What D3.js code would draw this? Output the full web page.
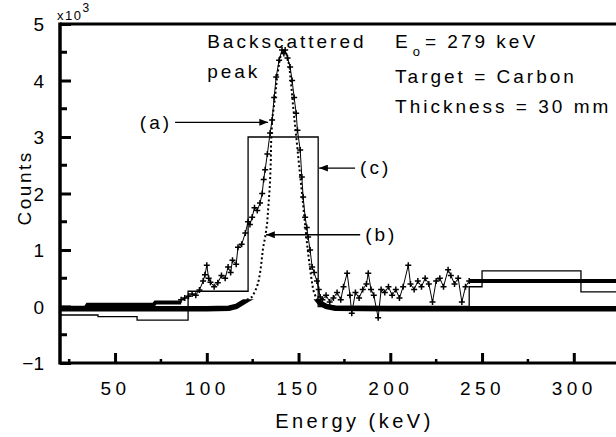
<!DOCTYPE html>
<html>
<head>
<meta charset="utf-8">
<script src="https://cdn.jsdelivr.net/npm/d3@7"></script>
<style>
body { margin: 0; background: #fff; }
text { font-family: "Liberation Sans", Arial, sans-serif; fill: #000; }
</style>
</head>
<body>
<div class="spectrum"></div>
<script>
// tick values
var xTicks = [50, 100, 150, 200, 250, 300];
var xMinor = [25, 75, 125, 175, 225, 275];
var yTicks = [-1, 0, 1, 2, 3, 4, 5];
var yMinor = [-0.5, 0.5, 1.5, 2.5, 3.5, 4.5];

// (a) measured spectrum, x10^3 counts
var expLow = [[20, -0.02], [34, -0.02], [35, 0.03], [71, 0.03], [72, 0.07], [86, 0.07]];
var expPts = [[86, 0.12], [88, 0.15], [90, 0.18], [92, 0.22], [94, 0.2], [96, 0.29], [98, 0.45], [99, 0.56],
  [100, 0.73], [101, 0.5], [102, 0.43], [104, 0.35], [106, 0.42], [108, 0.55], [110, 0.5], [111.6, 0.7],
  [113, 0.6], [114, 0.82], [116, 0.75], [117, 1.05], [119, 1.1], [121, 1.3], [122.5, 1.5], [123.5, 1.45],
  [124.7, 1.58], [126, 1.75], [127.5, 1.7], [129, 1.83], [130.2, 2.0], [131, 2.25], [131.8, 2.42], [133, 2.7],
  [134.5, 3.07], [135.6, 3.3], [136.7, 3.7], [137.8, 4.06], [139.4, 4.36], [141, 4.54], [142, 4.48], [142.7, 4.54],
  [144, 4.4], [145.4, 4.24], [146.5, 4.0], [147.6, 3.7], [148.7, 3.42], [149.4, 3.12], [150.9, 2.77], [151.8, 2.29],
  [152.5, 1.94], [153.6, 1.58], [154.5, 1.4], [155.2, 1.23], [156.3, 1.0], [157.4, 0.7], [158.5, 0.6], [160, 0.45],
  [161, 0.3], [161.8, 0.17], [163, 0.12], [165, 0.2], [167, 0.08], [169, 0.15], [171, 0.25], [173, 0.12],
  [174.5, 0.35], [176.5, 0.59], [178, 0.2], [179, -0.12], [181, 0.25], [183, 0.15], [185, 0.3], [187, 0.4],
  [188, 0.59], [189.5, 0.3], [191, 0.2], [193.4, -0.2], [195, 0.3], [197, 0.25], [199, 0.35], [201, 0.2],
  [203, 0.3], [205, 0.15], [207, 0.35], [209.8, 0.73], [211, 0.4], [213, 0.3], [215, 0.45], [217, 0.35],
  [219, 0.5], [221, 0.4], [223, 0.08], [225, 0.45], [227, 0.5], [229, 0.35], [231.5, 0.65], [233, 0.55],
  [235, 0.4], [237, 0.5], [239, 0.08], [241, 0.35], [243, 0.45]];
var expTail = [[243, 0.45], [323, 0.45]];

// (b) calculated curve
var simPts = [[20, -0.04], [60, -0.04], [100, -0.04], [112, -0.03], [116, 0.0], [118, 0.04], [120, 0.08],
  [122, 0.12], [124.7, 0.17], [126, 0.25], [127.4, 0.35], [128.3, 0.47], [129, 0.59], [129.6, 0.73],
  [130.1, 0.88], [130.7, 1.05], [131.3, 1.14], [131.8, 1.23], [132.4, 1.36], [132.9, 1.48], [133.4, 1.7],
  [133.8, 1.88], [134.2, 2.06], [134.5, 2.24], [134.7, 2.42], [134.9, 2.59], [135.0, 2.86], [135.6, 3.3],
  [137.2, 3.7], [138.3, 4.06], [139.9, 4.4], [141.6, 4.54], [143.2, 4.5], [144.9, 4.27], [146, 3.92],
  [147, 3.56], [148.1, 3.21], [149.2, 2.86], [150.3, 2.5], [151.4, 2.15], [152.5, 1.8], [153.6, 1.44],
  [154.7, 1.09], [155.8, 0.79], [156.9, 0.52], [158, 0.29], [159.6, 0.15], [161.8, 0.06], [165, 0.0],
  [170, -0.03], [200, -0.04], [323, -0.04]];

// (c) histogram
var histEdges = [20, 40.7, 62, 89.8, 122.5, 160.7, 243, 250, 303.9, 323];
var histVals = [-0.15, -0.18, -0.24, 0.27, 3.0, 0.0, 0.35, 0.63, 0.26];

var W = 616, H = 437;

var svg = d3.select('.spectrum')
    .append('svg')
    .attr("width", W)
    .attr("height", H);

var x = d3.scaleLinear().domain([20, 323]).range([60, 616]);
var y = d3.scaleLinear().domain([-1, 5]).range([363, 24]);

svg.append("clipPath").attr("id", "plot")
  .append("rect")
    .attr("x", x(20)).attr("y", y(5))
    .attr("width", x(323) - x(20)).attr("height", y(-1) - y(5));

svg.append("clipPath").attr("id", "base")
  .append("rect")
    .attr("x", x(20)).attr("y", y(0.13))
    .attr("width", x(323) - x(20)).attr("height", y(-1) - y(0.13));

var line = d3.line()
    .x(function(d) { return x(d[0]); })
    .y(function(d) { return y(d[1]); });

var g = svg.append("g").attr("clip-path", "url(#plot)");

// histogram (c)
var histData = histEdges.map(function(e, i) {
  return [e, histVals[Math.min(i, histVals.length - 1)]];
});
g.append("path")
  .datum(histData)
  .attr("d", line.curve(d3.curveStepAfter))
  .attr("fill", "none")
  .attr("stroke", "#000")
  .attr("stroke-width", 1.3);
line.curve(d3.curveLinear);

// curve (b): dotted, solid and thick near the baseline
g.append("path")
  .datum(simPts)
  .attr("d", line)
  .attr("fill", "none")
  .attr("stroke", "#000")
  .attr("stroke-width", 2)
  .attr("stroke-dasharray", "2,2.5");
g.append("g").attr("clip-path", "url(#base)")
  .append("path")
  .datum(simPts)
  .attr("d", line)
  .attr("fill", "none")
  .attr("stroke", "#000")
  .attr("stroke-width", 5.5);

// data (a)
g.append("path")
  .datum(expLow)
  .attr("d", line)
  .attr("fill", "none")
  .attr("stroke", "#000")
  .attr("stroke-width", 4);
g.append("path")
  .datum(expTail)
  .attr("d", line)
  .attr("fill", "none")
  .attr("stroke", "#000")
  .attr("stroke-width", 4);
g.append("path")
  .datum(expPts)
  .attr("d", line)
  .attr("fill", "none")
  .attr("stroke", "#000")
  .attr("stroke-width", 1);
g.selectAll(".cross")
  .data(expPts)
  .enter().append("path")
  .attr("class", "cross")
  .attr("transform", function(d) { return "translate(" + x(d[0]) + "," + y(d[1]) + ")"; })
  .attr("d", "M-3,0H3M0,-3V3")
  .attr("stroke", "#000")
  .attr("stroke-width", 1.5);

// axes
var yAxis = d3.axisLeft(y).tickValues(yTicks).tickSize(-11).tickPadding(16).tickFormat(d3.format("d"));
var xAxis = d3.axisBottom(x).tickValues(xTicks).tickSize(-10).tickPadding(19).tickFormat(d3.format("d"));

var ya = svg.append("g").attr("transform", "translate(" + x(20) + ",0)").call(yAxis);
var xa = svg.append("g").attr("transform", "translate(0," + y(-1) + ")").call(xAxis);

[ya, xa].forEach(function(a) {
  a.select(".domain").remove();
  a.selectAll(".tick line").attr("stroke-width", 3);
  a.selectAll("text").attr("font-family", "Liberation Sans, Arial, sans-serif").attr("font-size", 19);
});
ya.selectAll("text").attr("dy", "0.36em");
xa.selectAll("text").style("letter-spacing", "4.5px");

svg.selectAll(".yminor")
  .data(yMinor)
  .enter().append("line")
  .attr("x1", x(20)).attr("x2", x(20) + 7)
  .attr("y1", function(d) { return y(d); })
  .attr("y2", function(d) { return y(d); })
  .attr("stroke", "#000").attr("stroke-width", 3);

svg.selectAll(".xminor")
  .data(xMinor)
  .enter().append("line")
  .attr("x1", function(d) { return x(d); })
  .attr("x2", function(d) { return x(d); })
  .attr("y1", y(-1)).attr("y2", y(-1) - 4)
  .attr("stroke", "#000").attr("stroke-width", 2.5);

svg.append("line")
  .attr("x1", x(20)).attr("x2", x(20))
  .attr("y1", y(5) - 1.5).attr("y2", y(-1) + 1.5)
  .attr("stroke", "#000").attr("stroke-width", 3.5);
svg.append("line")
  .attr("x1", x(20)).attr("x2", x(323))
  .attr("y1", y(-1)).attr("y2", y(-1))
  .attr("stroke", "#000").attr("stroke-width", 3);
svg.append("line")
  .attr("x1", x(20)).attr("x2", x(323))
  .attr("y1", y(5)).attr("y2", y(5))
  .attr("stroke", "#000").attr("stroke-width", 3);

// axis titles
var mult = svg.append("text")
    .attr("x", x(20) - 3)
    .attr("y", y(5) - 4)
    .attr("font-size", 13)
    .style("letter-spacing", "1.5px")
    .text("x10");
mult.append("tspan").attr("font-size", 12).attr("dy", -8).text("3");

svg.append("text")
    .attr("transform", "translate(31," + y(2.1) + ") rotate(-90)")
    .attr("text-anchor", "middle")
    .attr("font-size", 19)
    .style("letter-spacing", "2.5px")
    .text("Counts");

svg.append("text")
    .attr("x", x(180.5))
    .attr("y", H - 9)
    .attr("text-anchor", "middle")
    .attr("font-size", 20)
    .style("letter-spacing", "3.5px")
    .text("Energy (keV)");

// annotations
var defs = svg.append("defs");
defs.append("marker")
    .attr("id", "head")
    .attr("markerUnits", "userSpaceOnUse")
    .attr("viewBox", "0 0 10 8")
    .attr("refX", 10).attr("refY", 4)
    .attr("markerWidth", 10).attr("markerHeight", 7)
    .attr("orient", "auto")
  .append("path")
    .attr("d", "M0,0L10,4L0,8Z")
    .attr("fill", "#000");

var notes = [
  { label: "(a)", tip: 133.4, tail: 82.7, v: 3.26, side: "left" },
  { label: "(b)", tip: 132.3, tail: 183.6, v: 1.27, side: "right" },
  { label: "(c)", tip: 161.2, tail: 180.8, v: 2.45, side: "right" }
];

notes.forEach(function(n) {
  svg.append("line")
    .attr("x1", x(n.tail)).attr("x2", x(n.tip))
    .attr("y1", y(n.v)).attr("y2", y(n.v))
    .attr("stroke", "#000").attr("stroke-width", 1.3)
    .attr("marker-end", "url(#head)");
  svg.append("text")
    .attr("x", n.side == "left" ? x(n.tail) - 3 : x(n.tail) + 5)
    .attr("y", y(n.v))
    .attr("dy", "0.33em")
    .attr("text-anchor", n.side == "left" ? "end" : "start")
    .attr("font-size", 19)
    .style("letter-spacing", "3px")
    .text(n.label);
});

function label(txt, kev, v) {
  return svg.append("text")
    .attr("x", x(kev))
    .attr("y", y(v))
    .attr("font-size", 19)
    .style("letter-spacing", "3px")
    .text(txt);
}

label("Backscattered", 100.2, 4.58);
label("peak", 100.2, 4.05);
var e0 = label("E", 202.6, 4.58);
e0.append("tspan").attr("font-size", 13).attr("dx", 2).attr("dy", 8).text("o");
e0.append("tspan").attr("dx", 2).attr("dy", -8).text("= 279 keV");
label("Target = Carbon", 202.6, 3.96);
label("Thickness = 30 mm", 202.6, 3.42);
</script>
</body>
</html>
